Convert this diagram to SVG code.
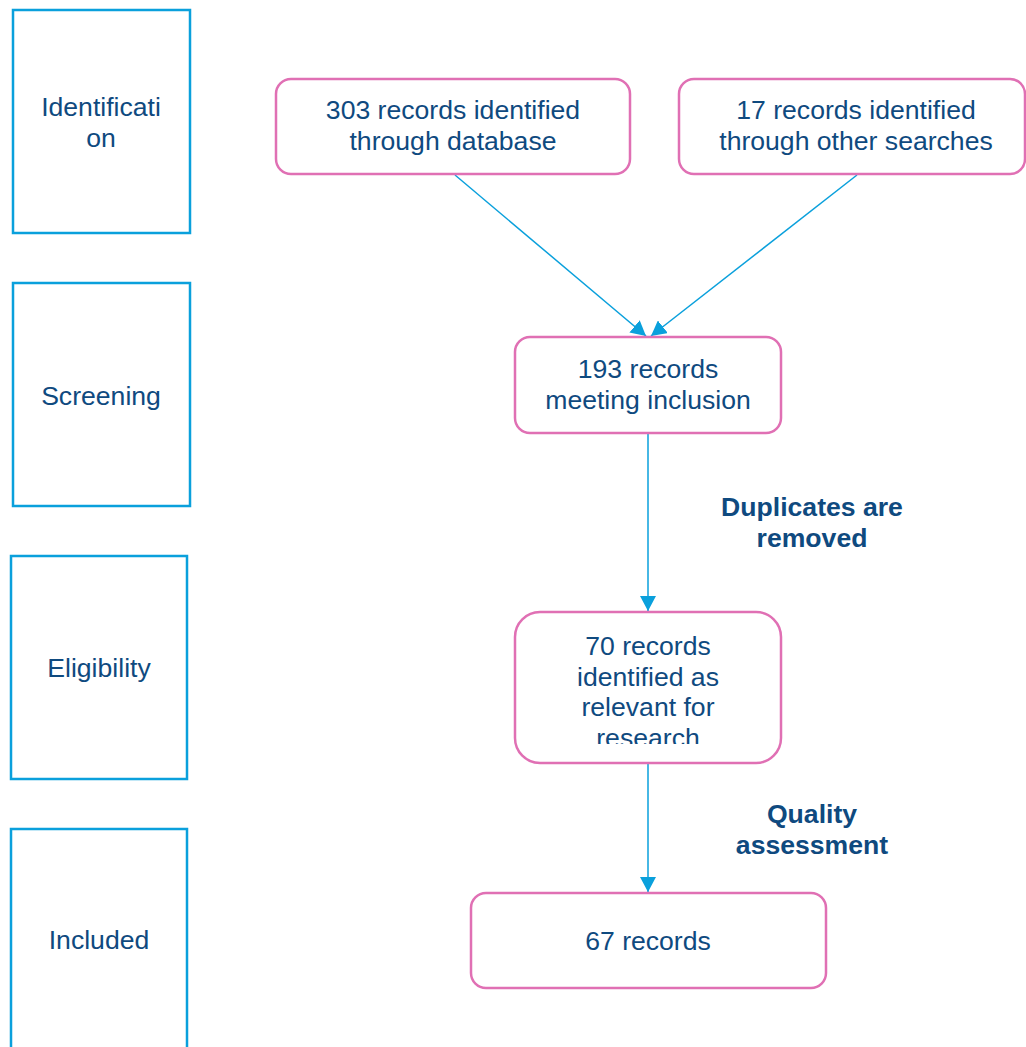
<svg xmlns="http://www.w3.org/2000/svg" width="1026" height="1047" viewBox="0 0 1026 1047">
<style>
.stage{fill:#fff;stroke:#0aa0dc;stroke-width:2.5}
.box{fill:#fff;stroke:#e070b4;stroke-width:2.5}
.t{font-family:"Liberation Sans",Arial,sans-serif;font-size:26.6px;fill:#0f4a7f;text-anchor:middle}
.b{font-weight:bold}
.conn{stroke:#0aa0dc;stroke-width:1.5;fill:none}
</style>
<defs>
<marker id="ah" markerUnits="userSpaceOnUse" markerWidth="16" markerHeight="16" refX="15" refY="8" orient="auto" viewBox="0 0 16 16">
<path d="M0,0 L15,8 L0,16 z" fill="#0aa0dc"/>
</marker>
<clipPath id="c4"><rect x="515" y="612" width="267" height="132"/></clipPath>
</defs>
<rect width="1026" height="1047" fill="#fff"/>
<g id="stage-identification">
<rect class="stage" x="13" y="10" width="177" height="223"/>
<text class="t" x="101" y="116">Identificati</text>
<text class="t" x="101" y="147">on</text>
</g>
<g id="stage-screening">
<rect class="stage" x="13" y="283" width="177" height="223"/>
<text class="t" x="101" y="405">Screening</text>
</g>
<g id="stage-eligibility">
<rect class="stage" x="11" y="556" width="176" height="223"/>
<text class="t" x="99" y="677">Eligibility</text>
</g>
<g id="stage-included">
<rect class="stage" x="11" y="829" width="176" height="240"/>
<text class="t" x="99" y="949">Included</text>
</g>
<g id="connectors">
<line class="conn" x1="455" y1="175" x2="646" y2="336" marker-end="url(#ah)"/>
<line class="conn" x1="857" y1="175" x2="651" y2="336" marker-end="url(#ah)"/>
<line class="conn" x1="648" y1="433" x2="648" y2="611" marker-end="url(#ah)"/>
<line class="conn" x1="648" y1="763" x2="648" y2="892" marker-end="url(#ah)"/>
<text class="t b" x="812" y="516">Duplicates are</text>
<text class="t b" x="812" y="547">removed</text>
<text class="t b" x="812" y="823">Quality</text>
<text class="t b" x="812" y="854">assessment</text>
</g>
<g id="node-database">
<rect class="box" x="276" y="79" width="354" height="95" rx="15"/>
<text class="t" x="453" y="119">303 records identified</text>
<text class="t" x="453" y="150">through database</text>
</g>
<g id="node-other">
<rect class="box" x="679" y="79" width="346" height="95" rx="15"/>
<text class="t" x="856" y="119">17 records identified</text>
<text class="t" x="856" y="150">through other searches</text>
</g>
<g id="node-193">
<rect class="box" x="515" y="337" width="266" height="96" rx="15"/>
<text class="t" x="648" y="378">193 records</text>
<text class="t" x="648" y="409">meeting inclusion</text>
</g>
<g id="node-70">
<rect class="box" x="515" y="612" width="266" height="151" rx="25"/>
<g clip-path="url(#c4)">
<text class="t" x="648" y="655">70 records</text>
<text class="t" x="648" y="686">identified as</text>
<text class="t" x="648" y="716">relevant for</text>
<text class="t" x="648" y="747">research</text>
</g>
</g>
<g id="node-67">
<rect class="box" x="471" y="893" width="355" height="95" rx="15"/>
<text class="t" x="648" y="950">67 records</text>
</g>
</svg>
